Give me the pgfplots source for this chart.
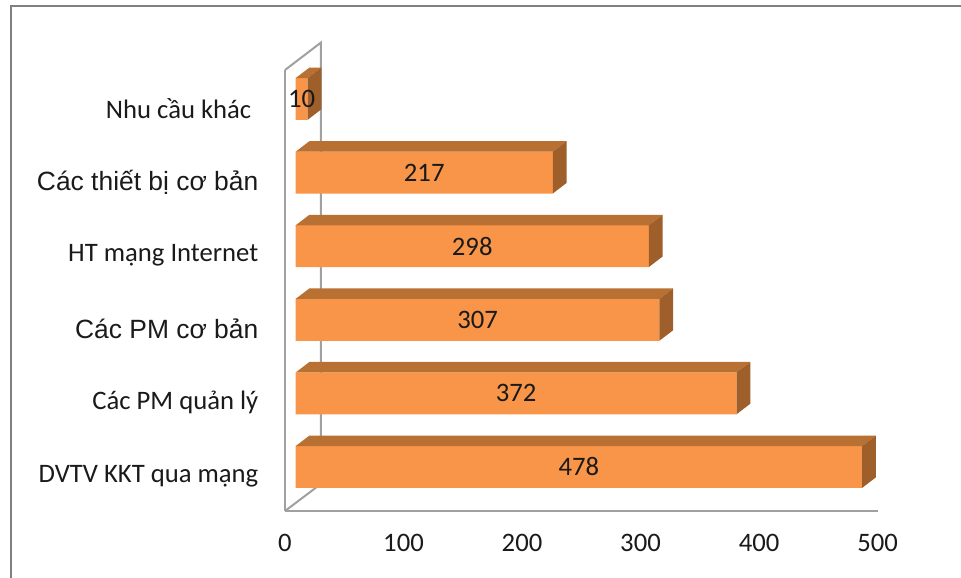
\documentclass[border=0pt]{standalone}
\usepackage{fontspec}
\setmainfont{Carlito}
\newfontfamily\arialfont{Liberation Sans}
\usepackage{pgfplots}
\pgfplotsset{compat=1.18}
\definecolor{front}{HTML}{F99548}
\definecolor{topf}{HTML}{B97133}
\definecolor{sidef}{HTML}{9E5F2A}
\definecolor{wall}{HTML}{A0A0A0}
\definecolor{frame}{HTML}{808080}
\definecolor{txt}{HTML}{1A1A1A}
\pgfplotsset{
  topface/.style={fill=topf,draw=none,forget plot,xshift=8pt},
  sideface/.style={fill=sidef,draw=none,forget plot,xshift=8pt},
  wallline/.style={color=wall,line width=1.5pt,forget plot}
}
\begin{document}
\begin{tikzpicture}
\path[use as bounding box] (0,0) rectangle (720.75pt,433.5pt);
\draw[frame,line width=1.8pt] (8.25pt,0) -- (8.25pt,429pt) -- (720.75pt,429pt);
\begin{axis}[
  at={(213.75pt,50.25pt)},anchor=south west,
  scale only axis,width=444.4pt,height=330.75pt,
  xmin=0,xmax=500,ymin=-0.598,ymax=5.394,
  clip=false,
  axis x line*=bottom,axis y line*=left,
  axis line style={wall,line width=1.5pt,-},
  major tick length=0pt,
  xtick={0,100,200,300,400,500},
  ytick={0,1,2,3,4,5},
  yticklabels={DVTV KKT qua mạng,Các PM quản lý,{\arialfont\fontsize{19.8}{22}\selectfont Các PM cơ bản},HT mạng Internet,{\arialfont\fontsize{19.8}{22}\selectfont Các thiết bị cơ bản},Nhu cầu khác\hspace*{5.25pt}},
  /pgf/number format/assume math mode=true,
  tick label style={font=\fontsize{20}{22}\selectfont,text=txt},
  yticklabel style={font=\fontsize{20}{22}\selectfont,anchor=east,xshift=-16.5pt,yshift=-7pt},
  xticklabel style={yshift=-14pt},
]
% back wall and floor edge
\addplot[wallline] coordinates {(0,5.394)(30.2,5.765)(30.2,-0.231)(0,-0.598)};
% bars
\addplot[xbar,bar shift=0pt,bar width=31.5pt,fill=front,draw=none,xshift=8pt,forget plot] coordinates {(478,0)(372,1)(307,2)(298,3)(217,4)(10,5)};
% top faces
\addplot[topface] coordinates {(0,0.284)(478,0.284)(489.6,0.427)(11.6,0.427)};
\addplot[topface] coordinates {(0,1.284)(372,1.284)(383.6,1.427)(11.6,1.427)};
\addplot[topface] coordinates {(0,2.284)(307,2.284)(318.6,2.427)(11.6,2.427)};
\addplot[topface] coordinates {(0,3.284)(298,3.284)(309.6,3.427)(11.6,3.427)};
\addplot[topface] coordinates {(0,4.284)(217,4.284)(228.6,4.427)(11.6,4.427)};
\addplot[topface] coordinates {(0,5.284)(10,5.284)(21.6,5.427)(11.6,5.427)};
% side faces
\addplot[sideface] coordinates {(478,0.284)(489.6,0.427)(489.6,-0.141)(478,-0.284)};
\addplot[sideface] coordinates {(372,1.284)(383.6,1.427)(383.6,0.859)(372,0.716)};
\addplot[sideface] coordinates {(307,2.284)(318.6,2.427)(318.6,1.859)(307,1.716)};
\addplot[sideface] coordinates {(298,3.284)(309.6,3.427)(309.6,2.859)(298,2.716)};
\addplot[sideface] coordinates {(217,4.284)(228.6,4.427)(228.6,3.859)(217,3.716)};
\addplot[sideface] coordinates {(10,5.284)(21.6,5.427)(21.6,4.859)(10,4.716)};
% value labels at bar centres
\addplot[draw=none,mark=none,xshift=8pt,forget plot,
  nodes near coords,point meta=explicit,
  every node near coord/.append style={anchor=center,font=\fontsize{20}{22}\selectfont,text=txt}]
  coordinates {(239,0)[478](186,1)[372](153.5,2)[307](149,3)[298](108.5,4)[217](5,5)[10]};
\end{axis}
\end{tikzpicture}
\end{document}
